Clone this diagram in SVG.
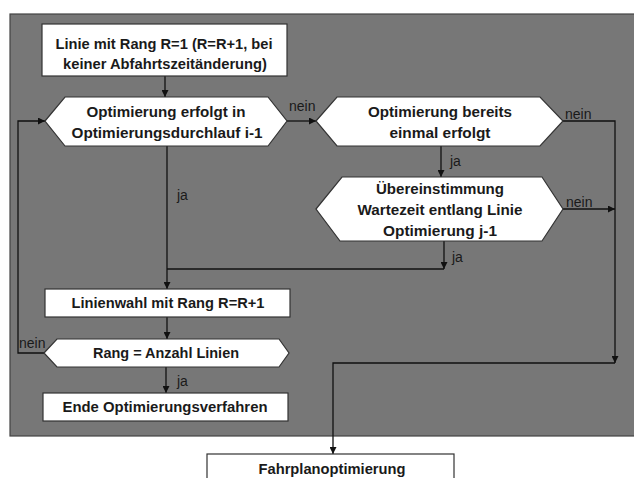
<svg xmlns="http://www.w3.org/2000/svg" width="634" height="478" viewBox="0 0 634 478">
<defs>
<style>
.shape{fill:#ffffff;stroke:#333333;stroke-width:1.2}
.t{font-family:"Liberation Sans",Arial,sans-serif;font-weight:bold;font-size:15px;fill:#1a1a1a;text-anchor:middle}
.l{font-family:"Liberation Sans",Arial,sans-serif;font-size:14px;fill:#1a1a1a}
.c{fill:none;stroke:#111111;stroke-width:1.3}
</style>
<marker id="ah" viewBox="0 0 10 10" refX="10" refY="5" markerWidth="7" markerHeight="7" markerUnits="userSpaceOnUse" orient="auto">
<path d="M0,0 L10,5 L0,10 Z" fill="#111111"/>
</marker>
</defs>
<rect x="0" y="0" width="634" height="478" fill="#ffffff"/>
<rect id="panel" x="10" y="14" width="640" height="422" fill="#777777" stroke="#444444" stroke-width="1.2"/>
<g id="connectors">
<path class="c" d="M165,76 V97" marker-end="url(#ah)"/>
<path class="c" d="M287,121 H316" marker-end="url(#ah)"/>
<path class="c" d="M563,121 H615 V363" marker-end="url(#ah)"/>
<path class="c" d="M615,363 H333 V454" marker-end="url(#ah)"/>
<path class="c" d="M441,146 V177" marker-end="url(#ah)"/>
<path class="c" d="M563,209 H615" marker-end="url(#ah)"/>
<path class="c" d="M444,241 V269" marker-end="url(#ah)"/>
<path class="c" d="M444,269 H167"/>
<path class="c" d="M167,146 V289" marker-end="url(#ah)"/>
<path class="c" d="M167,317 V339" marker-end="url(#ah)"/>
<path class="c" d="M44,353 H18 V121 H45" marker-end="url(#ah)"/>
<path class="c" d="M166,367 V393" marker-end="url(#ah)"/>
<text class="l" x="289" y="111">nein</text>
<text class="l" x="565" y="119">nein</text>
<text class="l" x="450" y="166">ja</text>
<text class="l" x="566" y="207">nein</text>
<text class="l" x="452" y="262">ja</text>
<text class="l" x="177" y="200">ja</text>
<text class="l" x="19" y="348">nein</text>
<text class="l" x="177" y="386">ja</text>
</g>
<g id="start">
<rect class="shape" x="42" y="24" width="245" height="52"/>
<text class="t" x="164" y="49" textLength="217" lengthAdjust="spacingAndGlyphs">Linie mit Rang R=1 (R=R+1, bei</text>
<text class="t" x="165" y="69" textLength="204" lengthAdjust="spacingAndGlyphs">keiner Abfahrtszeitänderung)</text>
</g>
<g id="dec1">
<polygon class="shape" points="45,121 65,97 268,97 287,121 268,146 65,146"/>
<text class="t" x="166" y="117" textLength="159" lengthAdjust="spacingAndGlyphs">Optimierung erfolgt in</text>
<text class="t" x="167" y="138" textLength="191" lengthAdjust="spacingAndGlyphs">Optimierungsdurchlauf i-1</text>
</g>
<g id="dec2">
<polygon class="shape" points="316,121 337,97 540,97 563,121 540,146 337,146"/>
<text class="t" x="440" y="117" textLength="144" lengthAdjust="spacingAndGlyphs">Optimierung bereits</text>
<text class="t" x="440" y="138" textLength="101" lengthAdjust="spacingAndGlyphs">einmal erfolgt</text>
</g>
<g id="dec3">
<polygon class="shape" points="316,209 342,177 542,177 563,209 542,241 340,241"/>
<text class="t" x="440" y="194" textLength="128" lengthAdjust="spacingAndGlyphs">Übereinstimmung</text>
<text class="t" x="440" y="215" textLength="165" lengthAdjust="spacingAndGlyphs">Wartezeit entlang Linie</text>
<text class="t" x="440" y="236" textLength="114" lengthAdjust="spacingAndGlyphs">Optimierung j-1</text>
</g>
<g id="select">
<rect class="shape" x="45" y="289" width="245" height="28"/>
<text class="t" x="168" y="308" textLength="193" lengthAdjust="spacingAndGlyphs">Linienwahl mit Rang R=R+1</text>
</g>
<g id="dec4">
<polygon class="shape" points="44,353 57,339 279,339 289,353 279,367 57,367"/>
<text class="t" x="166" y="358" textLength="146" lengthAdjust="spacingAndGlyphs">Rang = Anzahl Linien</text>
</g>
<g id="end">
<rect class="shape" x="43" y="393" width="245" height="28"/>
<text class="t" x="165" y="412" textLength="205" lengthAdjust="spacingAndGlyphs">Ende Optimierungsverfahren</text>
</g>
<g id="fahrplan">
<rect class="shape" x="207" y="454" width="247" height="34"/>
<text class="t" x="332" y="474" textLength="147" lengthAdjust="spacingAndGlyphs">Fahrplanoptimierung</text>
</g>
</svg>
